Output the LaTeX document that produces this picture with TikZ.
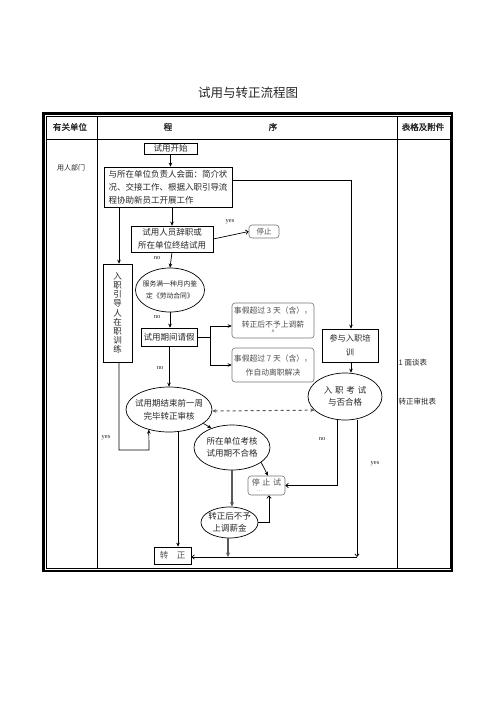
\documentclass[tikz,border=0pt]{standalone}
\usepackage{fontspec}
\newfontfamily\cjk{Noto Sans CJK SC}
\newfontfamily\cjkb[FakeBold=1.5]{Noto Sans CJK SC}
\newfontfamily\lat{Liberation Serif}
\usetikzlibrary{arrows.meta,shapes.geometric,calc}
\begin{document}
\begin{tikzpicture}[x=1pt,y=-1pt,
  every node/.style={inner sep=1pt,text=black!85},
  rbox/.style={draw,line width=0.7pt,align=center,font=\cjk\fontsize{8.5}{13}\selectfont},
  gbox/.style={draw=black!55,line width=0.6pt,rounded corners=3pt,align=center,text=black!70,font=\cjk\fontsize{7.8}{14}\selectfont},
  oval/.style={ellipse,draw,line width=0.7pt,inner sep=-12pt,align=center,font=\cjk\fontsize{8.5}{12.5}\selectfont},
  lbl/.style={font=\lat\fontsize{6.5}{7}\selectfont,inner sep=0pt},
  arr/.style={line width=0.7pt,-{Stealth[length=4pt,width=3.6pt]}},
  oarr/.style={line width=0.7pt,-{Straight Barb[length=2.6pt,width=4.4pt]}},
  ln/.style={line width=0.7pt}
]
\useasboundingbox (0,0) rectangle (496,702);

% title and table
\node[font=\cjk\fontsize{12.5}{14}\selectfont] (title) at (248,93) {试用与转正流程图};
\draw[line width=2.5pt] (43.5,113.5) rectangle (452.2,570.8);
\draw[line width=0.6pt] (46.5,116.5) rectangle (449.8,568);
\draw[ln] (46.5,139) -- (449.8,139);
\draw[ln] (97,116.5) -- (97,568);
\draw[ln] (397,116.5) -- (397,568);

\node[font=\cjkb\fontsize{8.5}{10}\selectfont] (h1) at (70,127) {有关单位};
\node[font=\cjkb\fontsize{8.5}{10}\selectfont] (h2) at (168,127) {程};
\node[font=\cjkb\fontsize{8.5}{10}\selectfont] (h3) at (273,127) {序};
\node[font=\cjkb\fontsize{8.5}{10}\selectfont] (h4) at (423,127) {表格及附件};
\node[font=\cjk\fontsize{7}{8}\selectfont] (dept) at (71,168) {用人部门};

% nodes
\node[rbox,minimum width=53pt,minimum height=11pt,inner sep=0.5pt] (start) at (170.5,148.5) {试用开始};
\node[rbox,align=left,minimum width=128pt,minimum height=40pt] (meet) at (168,187)
  {与所在单位负责人会面：简介状\\况、交接工作、根据入职引导流\\程协助新员工开展工作};
\node[rbox,minimum width=82pt,minimum height=26pt] (resign) at (172,239) {试用人员辞职或\\所在单位终结试用};
\node[gbox,minimum width=30pt,minimum height=13pt,font=\cjk\fontsize{7.5}{9}\selectfont] (stop) at (264,231.5) {停止};
\node[rbox,minimum width=29pt,minimum height=98pt,font=\cjk\fontsize{8.5}{9.2}\selectfont] (guide) at (117.5,313)
  {入\\职\\引\\导\\人\\在\\职\\训\\练};
\node[oval,minimum width=69pt,minimum height=44pt,font=\cjk\fontsize{6.8}{12}\selectfont] (serve) at (170,290)
  {服务满一种月内鉴\\定《劳动合同》};
\node[rbox,minimum width=56pt,minimum height=18pt] (leave) at (169,337) {试用期间请假};
\node[gbox,minimum width=82pt,minimum height=35pt] (d3) at (273,320.5)
  {事假超过 3 天（含），\\转正后不予上调薪\\[-7pt]{\fontsize{6}{6}\selectfont\^{}}};
\node[gbox,minimum width=82pt,minimum height=34pt] (d7) at (273,365)
  {事假超过 7 天（含），\\作自动离职解决};
\node[rbox,minimum width=56pt,minimum height=33pt,font=\cjk\fontsize{8.2}{14}\selectfont] (train) at (350,345.5) {参与入职培\\训};
\node[oval,minimum width=74pt,minimum height=47pt] (exam) at (345,396.5) {入\,\,职\,\,考\,\,试\\与否合格};
\node[oval,minimum width=86pt,minimum height=45pt] (review) at (169,409.5) {试用期结束前一周\\完毕转正审核};
\node[oval,minimum width=76pt,minimum height=45pt] (fail) at (232,447.5) {所在单位考核\\试用期不合格};
\node[gbox,minimum width=37pt,minimum height=19pt,font=\cjk\fontsize{8}{9}\selectfont] (stop2) at (266.5,485.5)
  {停\,\,止\,\,试\\[-3pt]{\fontsize{5}{5}\selectfont\hspace*{-14pt}…}};
\node[oval,minimum width=57pt,minimum height=31pt] (nopay) at (229.5,522.5) {转正后不予\\上调薪金};
\node[rbox,minimum width=37pt,minimum height=17pt,text=black!70] (final) at (172.5,555.5) {转\quad 正};
\node[anchor=west,font=\cjk\fontsize{7.5}{9}\selectfont] (f1) at (397.5,363) {1 面谈表};
\node[anchor=west,font=\cjk\fontsize{7.5}{9}\selectfont] (f2) at (397.5,402) {转正审批表};

% labels
\node[lbl] (y1) at (230,222) {yes};
\node[lbl] (n1) at (157,258) {no};
\node[lbl] (n2) at (157,317) {no};
\node[lbl] (n3) at (160,368) {no};
\node[lbl] (y2) at (106,438) {yes};
\node[lbl] (n4) at (322,439) {no};
\node[lbl] (y3) at (375,464) {yes};

% coordinates
\coordinate (k1) at (351,180);
\coordinate (sp) at (210,337);
\coordinate (g2) at (149,450);
\coordinate (c1) at (269,522.5);
\coordinate (e1) at (337,488);
\coordinate (b1) at (357,557);
\coordinate (tg) at (119,210);

% connectors
\draw[arr] (start.south) -- (start.south |- meet.north);
\draw[arr] (meet.east |- k1) -- (k1) -- (k1 |- train.north);
\draw[arr] (resign.north |- meet.south) -- (resign.north);
\draw[oarr] (resign.east) -- (stop.west);
\draw[arr] (tg |- meet.south) -- (tg |- guide.north);
\draw[arr] (resign.south) -- (serve.north);
\draw[arr] (serve.south) -- (serve.south |- leave.north);
\draw[ln] (leave.east) -- (sp);
\draw[arr] (sp) |- ([yshift=-5.5pt]d3.west);
\draw[arr] (sp) |- (d7.west);
\draw[arr] (train.south -| k1) -- (k1 |- exam.north);
\draw[arr] (leave.south) -- (leave.south |- review.north);
\draw[dashed,line width=1pt,draw=black!65,{Stealth[length=4pt,width=3.6pt]}-{Stealth[length=4pt,width=3.6pt]}] (review.-2) -- (exam.204);
\draw[arr] (tg |- guide.south) |- (g2) -- (review.225);
\draw[arr] (review.-22) -- (fail.137);
\draw[arr] (fail.-27) -- ([xshift=1.5pt]stop2.north);
\draw[line width=1.1pt,draw=black!65,-{Stealth[length=4.5pt,width=4pt]}] (fail.south) -- (fail.south |- nopay.north);
\draw[oarr] (nopay.east) -- (c1) -- (c1 |- stop2.south);
\draw[line width=1.1pt,draw=black!65,-{Stealth[length=4.5pt,width=4pt]}] ([xshift=-1.5pt]nopay.south) -- ([xshift=-1.5pt]nopay.south |- b1);
\draw[arr] (review.-68) -- (review.-68 |- final.north);
\draw[oarr] (e1 |- exam.south) |- (stop2.east);
\draw[oarr] (b1 |- exam.south) -- (b1);
\draw[oarr] (b1) -- (b1 -| final.east);
\end{tikzpicture}
\end{document}
